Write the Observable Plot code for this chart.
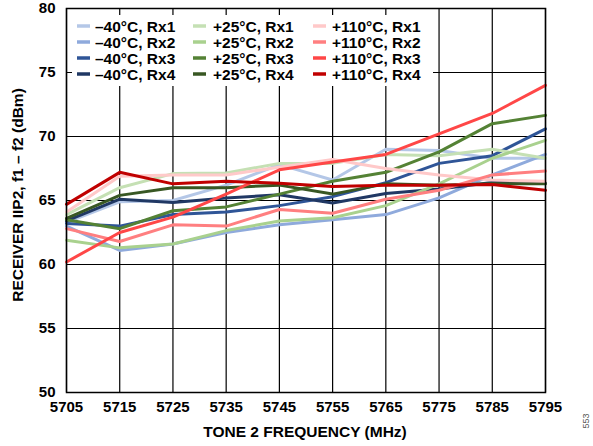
<!DOCTYPE html>
<html>
<head>
<meta charset="utf-8">
<script src="https://cdn.jsdelivr.net/npm/d3@7"></script>
<script src="https://cdn.jsdelivr.net/npm/@observablehq/plot@0.6"></script>
<style>
  html, body { margin: 0; padding: 0; background: #fff; }
  #chart svg { display: block; }
</style>
</head>
<body>
<div id="chart"></div>
<script>
// Tone 2 frequency (MHz)
const freqs = [5705, 5715, 5725, 5735, 5745, 5755, 5765, 5775, 5785, 5795];
const xTicks = [5705, 5715, 5725, 5735, 5745, 5755, 5765, 5775, 5785, 5795];
const yTicks = [50, 55, 60, 65, 70, 75, 80];

const seriesNames = [
  "–40°C, Rx1", "–40°C, Rx2", "–40°C, Rx3", "–40°C, Rx4",
  "+25°C, Rx1", "+25°C, Rx2", "+25°C, Rx3", "+25°C, Rx4",
  "+110°C, Rx1", "+110°C, Rx2", "+110°C, Rx3", "+110°C, Rx4"
];
const seriesColors = [
  "#b4c7e7", "#8faadc", "#2f5597", "#203864",
  "#c5e0b4", "#a9d18e", "#548235", "#385723",
  "#ffc9c9", "#ff7f80", "#ff4747", "#c00000"
];

// Receiver IIP2, f1 − f2 (dBm)
const m40_rx1 = [63.3, 64.9, 65.0, 66.2, 67.8, 66.6, 69.0, 68.9, 68.3, 68.3];
const m40_rx2 = [63.0, 61.1, 61.6, 62.5, 63.1, 63.5, 63.9, 65.2, 67.0, 68.6];
const m40_rx3 = [63.2, 63.0, 63.9, 64.1, 64.6, 65.3, 66.4, 67.9, 68.5, 70.6];
const m40_rx4 = [63.4, 65.1, 64.85, 65.2, 65.45, 64.8, 65.55, 65.9, 66.4, 66.4];
const p25_rx1 = [63.9, 66.0, 67.1, 67.15, 67.9, 67.9, 68.6, 68.5, 69.0, 68.3];
const p25_rx2 = [61.9, 61.3, 61.6, 62.65, 63.4, 63.65, 64.6, 66.3, 68.3, 69.7];
const p25_rx3 = [63.5, 62.8, 64.2, 64.5, 65.5, 66.5, 67.2, 68.8, 71.0, 71.65];
const p25_rx4 = [63.6, 65.4, 66.0, 66.0, 66.2, 65.5, 66.3, 66.2, 66.3, 66.3];
const p110_rx1 = [64.1, 66.9, 67.0, 67.0, 67.6, 68.2, 67.5, 67.0, 66.6, 66.5];
const p110_rx2 = [62.8, 61.8, 63.1, 63.0, 64.3, 64.0, 65.1, 65.8, 67.0, 67.3];
const p110_rx3 = [60.2, 62.5, 63.7, 65.5, 67.4, 68.0, 68.6, 70.2, 71.8, 74.0];
const p110_rx4 = [64.7, 67.2, 66.3, 66.5, 66.35, 66.1, 66.2, 66.2, 66.25, 65.8];

const allSeries = [m40_rx1, m40_rx2, m40_rx3, m40_rx4, p25_rx1, p25_rx2, p25_rx3, p25_rx4,
                   p110_rx1, p110_rx2, p110_rx3, p110_rx4];

const rows = [];
allSeries.forEach((vals, si) => {
  vals.forEach((v, i) => rows.push({series: seriesNames[si], f: freqs[i], v}));
});

const FONT = "'Liberation Sans', Arial, Helvetica, sans-serif";

const plot = Plot.plot({
  width: 593,
  height: 446,
  marginLeft: 66,
  marginRight: 48,
  marginTop: 8,
  marginBottom: 54,
  style: {fontFamily: FONT, background: "#fff", color: "#000"},
  x: {domain: [5705, 5795], ticks: xTicks},
  y: {domain: [50, 80], ticks: yTicks},
  color: {domain: seriesNames, range: seriesColors},
  marks: [
    Plot.gridX(xTicks, {stroke: "#000", strokeOpacity: 1, strokeWidth: 1.2}),
    Plot.gridY(yTicks, {stroke: "#000", strokeOpacity: 1, strokeWidth: 1.2}),
    Plot.line(rows, {x: "f", y: "v", z: "series", stroke: "series", strokeWidth: 3, strokeLinejoin: "round"}),
    Plot.frame({stroke: "#000", strokeWidth: 1.5}),
    Plot.axisX({ticks: xTicks, tickSize: 0, tickPadding: 9, tickFormat: d => String(d),
      fontSize: 15, fontWeight: "bold", label: null}),
    Plot.axisY({ticks: yTicks, tickSize: 0, tickPadding: 11, fontSize: 15, fontWeight: "bold", label: null})
  ]
});

document.getElementById("chart").appendChild(plot);

const svg = d3.select(plot);

// Legend (box over grid)
const lg = svg.append("g").attr("font-family", FONT).attr("text-anchor", "start");
lg.append("rect").attr("x", 72).attr("y", 15).attr("width", 361).attr("height", 71).attr("fill", "#fff");
const colSwatch = [77, 193, 313];
const colText = [95, 213, 332];
seriesNames.forEach((name, i) => {
  const c = Math.floor(i / 4), r = i % 4;
  const yy = 26 + r * 16;
  lg.append("line").attr("x1", colSwatch[c]).attr("x2", colSwatch[c] + 13)
    .attr("y1", yy).attr("y2", yy).attr("stroke", seriesColors[i]).attr("stroke-width", 3.5);
  lg.append("text").attr("x", colText[c]).attr("y", yy).attr("dy", "0.36em")
    .attr("text-anchor", "start")
    .attr("font-size", 15.5).attr("font-weight", "bold").attr("fill", "#000").text(name);
});

// Axis titles
svg.append("text").attr("x", 305).attr("y", 437).attr("text-anchor", "middle")
  .attr("font-family", FONT).attr("font-size", 15.5).attr("font-weight", "bold")
  .text("TONE 2 FREQUENCY (MHz)");
svg.append("text").attr("transform", "translate(23,195) rotate(-90)").attr("text-anchor", "middle")
  .attr("font-family", FONT).attr("font-size", 15.5).attr("font-weight", "bold")
  .text("RECEIVER IIP2, f1 – f2 (dBm)");
svg.append("text").attr("transform", "translate(589,421) rotate(-90)").attr("text-anchor", "middle")
  .attr("font-family", FONT).attr("font-size", 9).attr("fill", "#555")
  .text("553");
</script>
</body>
</html>
